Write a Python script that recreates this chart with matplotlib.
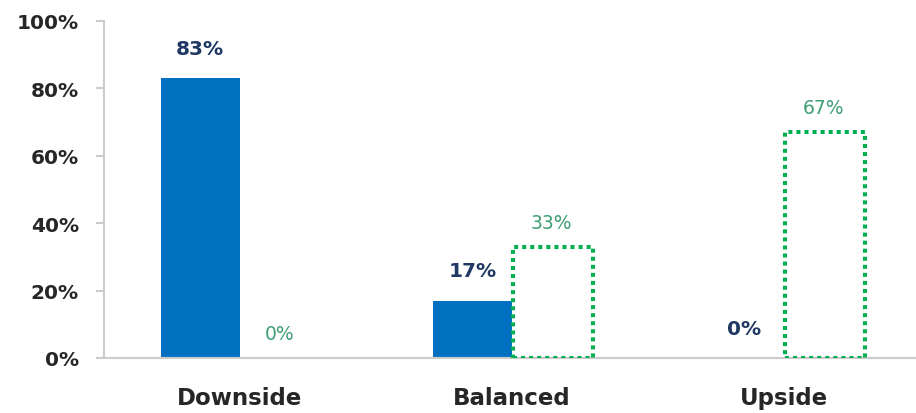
import matplotlib
matplotlib.use("Agg")
import matplotlib.pyplot as plt
import numpy as np

categories = ["Downside", "Balanced", "Upside"]
series_blue = [83, 17, 0]
series_green = [0, 33, 67]
yticks = [0, 20, 40, 60, 80, 100]

plt.rcParams['font.family'] = ['DejaVu Sans']

fig = plt.figure(figsize=(9.16, 4.14), dpi=100)
ax = fig.add_axes([0.1135, 0.133, 0.885, 0.814])

x = np.arange(len(categories))
w = 0.292
blue = "#0070C0"
green = "#00B050"
axis_gray = "#CCCCCC"

ax.bar(x - w / 2, series_blue, width=w, color=blue, edgecolor="none", zorder=2)
ecs = ["none" if v == 0 else green for v in series_green]
ax.bar(x + w / 2 + 0.004, series_green, width=w, facecolor="none", edgecolor=ecs,
       linewidth=2.9, linestyle=(0, (1, 1)), zorder=3)

for xi, v in zip(x, series_blue):
    ax.annotate(f"{v}%", (xi - w / 2, v), xytext=(0, 21.5), textcoords="offset points",
                ha="center", va="center", fontsize=14.5, fontweight="bold", color="#1F3864")
for xi, v in zip(x, series_green):
    ax.annotate(f"{v}%", (xi + w / 2, v), xytext=(0, 17.5), textcoords="offset points",
                ha="center", va="center", fontsize=13.5, color="#3E9E74")

ax.set_xlim(-0.5, 2.48)
ax.set_ylim(0, 100)
ax.set_yticks(yticks)
ax.set_yticklabels([f"{t}%" for t in yticks], fontsize=14.5, fontweight="bold", color="#262626")
ax.set_xticks(x)
ax.set_xticklabels(categories, fontsize=16.5, fontweight="bold", color="#262626")
ax.tick_params(axis="x", length=0, pad=20)
ax.tick_params(axis="y", length=6, width=1.5, color=axis_gray, pad=12)

for s in ["top", "right"]:
    ax.spines[s].set_visible(False)
for s in ["left", "bottom"]:
    ax.spines[s].set_color(axis_gray)
    ax.spines[s].set_linewidth(1.5)

fig.savefig("out.png", dpi=100)
